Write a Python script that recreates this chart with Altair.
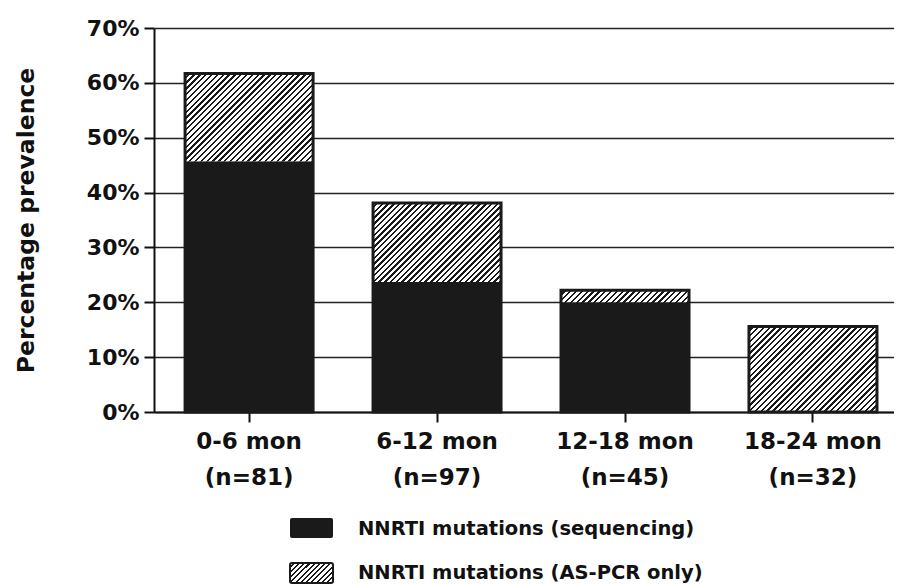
import altair as alt
import pandas as pd

# ---------------- data ----------------
periods = ["0-6 mon", "6-12 mon", "12-18 mon", "18-24 mon"]
n_sizes = [81, 97, 45, 32]
sequencing = [45.7, 23.7, 20.0, 0.0]          # % with NNRTI mutations by sequencing
as_pcr_only = [16.0, 14.4, 2.2, 15.6]         # additional % detected by AS-PCR only
series = ["NNRTI mutations (sequencing)", "NNRTI mutations (AS-PCR only)"]
y_ticks = [0, 10, 20, 30, 40, 50, 60, 70]

# ---------------- layout / style ----------------
W, H = 740, 384
YMAX = 70
INK = "#1a1a1a"
FONT = "DejaVu Sans"
PAD_INNER, PAD_OUTER, ALIGN = 0.319, 0.128, 0.646
STEP = W / (len(periods) - PAD_INNER + 2 * PAD_OUTER)
BAR_W = STEP * (1 - PAD_INNER)


def hatch(w, h, period=5.8, dark=0.4):
    """Linear gradient with hard stops giving 45-degree '/' hatching for a w x h box."""
    L = w + h
    n = max(1, round(L / period))
    stops = []
    for k in range(n):
        a, b, c = k / n, (k + 1 - dark) / n, (k + 1) / n
        stops += [
            {"offset": a, "color": "white"},
            {"offset": b, "color": "white"},
            {"offset": b, "color": INK},
            {"offset": c, "color": INK},
        ]
    d = w * w + h * h
    return {"gradient": "linear", "x1": 0, "y1": 0,
            "x2": w * L / d, "y2": h * L / d, "stops": stops}


labels = [f"{p}\n(n={n})" for p, n in zip(periods, n_sizes)]
df = pd.DataFrame({
    "label": labels,
    "seq": sequencing,
    "total": [s + a for s, a in zip(sequencing, as_pcr_only)],
    "extra": as_pcr_only,
})

x_enc = alt.X(
    "label:N", sort=labels,
    scale=alt.Scale(paddingInner=PAD_INNER, paddingOuter=PAD_OUTER, align=ALIGN),
    axis=alt.Axis(
        title=None, labelExpr="split(datum.label, '\\n')", labelAngle=0,
        labelFont=FONT, labelFontWeight="bold", labelFontSize=23, labelColor="#111",
        labelBaseline="top", labelPadding=8, labelLineHeight=36,
        tickSize=10, tickWidth=2, tickColor="#111",
        domainWidth=2, domainColor="#111", grid=False,
    ),
)

y_axis = alt.Axis(
    values=y_ticks, labelExpr="datum.value + '%'",
    title="Percentage prevalence", titleFont=FONT, titleFontWeight="bold",
    titleFontSize=23.5, titleColor="#111", titleX=-128, titleY=H / 2,
    titleAlign="center", titleBaseline="middle", titleAngle=270,
    labelFont=FONT, labelFontWeight="bold", labelFontSize=22, labelColor="#111",
    labelPadding=5, tickSize=10, tickWidth=2, tickColor="#111",
    domainWidth=2, domainColor="#111",
    grid=True, gridColor="#222", gridWidth=1.5,
)
y_scale = alt.Scale(domain=[0, YMAX], nice=False)

base = alt.Chart(df)

black = base.mark_bar(color=INK).encode(
    x=x_enc,
    y=alt.Y("seq:Q", scale=y_scale, axis=y_axis, stack=None),
)

layers = [black]
for lab, extra in zip(labels, as_pcr_only):
    h_px = extra * H / YMAX
    layers.append(
        base.transform_filter(alt.datum.label == lab)
        .mark_bar(fill=hatch(BAR_W, h_px))
        .encode(
            x=x_enc,
            y=alt.Y("seq:Q", scale=y_scale, axis=y_axis, stack=None),
            y2="total:Q",
        )
    )

outline = base.mark_bar(fillOpacity=0, stroke=INK, strokeWidth=3).encode(
    x=x_enc,
    y=alt.Y("total:Q", scale=y_scale, axis=y_axis, stack=None),
)
layers.append(outline)

# ---------------- legend (below the axis) ----------------
leg = alt.Chart(pd.DataFrame({"series": series}))
LX0, LX1, TX = 136, 179, 204
rows = [(490, 510, 501), (535, 555, 545)]

leg_black = leg.transform_filter(alt.datum.series == series[0]).mark_rect(
    fill=INK, cornerRadius=2
).encode(x=alt.value(LX0), x2=alt.value(LX1),
         y=alt.value(rows[0][0]), y2=alt.value(rows[0][1]))

leg_hatch = leg.transform_filter(alt.datum.series == series[1]).mark_rect(
    fill=hatch(LX1 - LX0, rows[1][1] - rows[1][0], period=5.2),
    stroke=INK, strokeWidth=2, cornerRadius=2
).encode(x=alt.value(LX0), x2=alt.value(LX1),
         y=alt.value(rows[1][0]), y2=alt.value(rows[1][1]))

leg_texts = []
for s, r in zip(series, rows):
    leg_texts.append(
        leg.transform_filter(alt.datum.series == s).mark_text(
            align="left", baseline="middle", font=FONT, fontWeight="bold",
            fontSize=19.5, color="#111"
        ).encode(text="series:N", x=alt.value(TX), y=alt.value(r[2]))
    )

chart = alt.layer(*layers, leg_black, leg_hatch, *leg_texts).properties(
    width=W, height=H,
    padding={"left": 146, "top": 20, "right": 0, "bottom": 172},
    autosize=alt.AutoSizeParams(type="none"),
    background="white",
).configure_view(strokeWidth=0)

chart.save("out.html", embed_options={"renderer": "svg", "actions": False})
